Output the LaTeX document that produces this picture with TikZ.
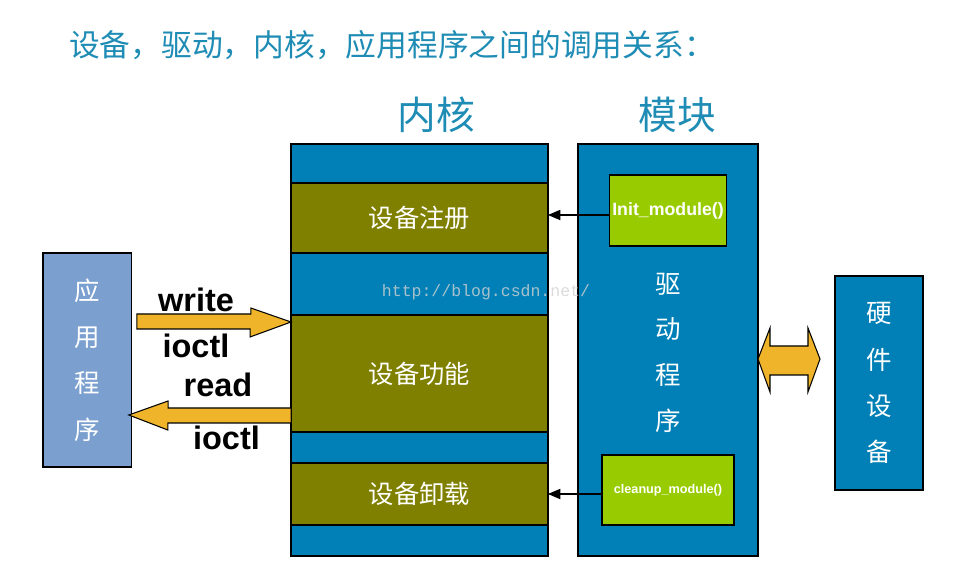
\documentclass[tikz,border=0pt]{standalone}
\usepackage{fontspec}
\setmainfont{Liberation Sans}
\newfontfamily\cjk{Noto Sans CJK SC}
\newfontfamily\wmfont{Liberation Mono}
\usetikzlibrary{arrows}
\definecolor{kblue}{RGB}{0,128,182}
\definecolor{kolive}{RGB}{128,128,0}
\definecolor{mgreen}{RGB}{153,204,0}
\definecolor{appblue}{RGB}{123,160,207}
\definecolor{aorange}{RGB}{239,180,42}
\definecolor{ttl}{RGB}{30,140,180}

\begin{document}
\begin{tikzpicture}[x=0.02cm,y=-0.02cm,>=triangle 45]
		\tikzstyle{box} = [rectangle,draw=black,thick,inner sep=0,outer sep=0,text=white];
		\tikzstyle{band} = [box,minimum width=5.14cm];
		\tikzstyle{tall} = [box,fill=kblue,align=center,font=\cjk\fontsize{14.5pt}{26.3pt}\selectfont];
		\tikzstyle{colcap} = [text=ttl,font=\cjk\fontsize{22pt}{24pt}\selectfont];
		\tikzstyle{call} = [font=\bfseries\fontsize{18.5pt}{20pt}\selectfont];
		\tikzstyle{barrow} = [draw=black,fill=aorange,line width=0.6pt,line join=miter];
		\useasboundingbox (0,0) rectangle (953,563);
		% titles
		\node[text=ttl,font=\cjk\fontsize{17.5pt}{20pt}\selectfont] (head) at (392,45) {设备，驱动，内核，应用程序之间的调用关系：};
		\node[colcap] (kcap) at (436,115) {内核};
		\node[colcap] (mcap) at (677,115) {模块};
		% kernel
		\node[band,fill=kblue,minimum height=0.78cm] (k1) at (419.5,163.5) {};
		\node[band,fill=kolive,minimum height=1.4cm,font=\cjk\fontsize{14.4pt}{16pt}\selectfont] (reg) at (419.5,218) {设备注册};
		\node[band,fill=kblue,minimum height=1.24cm] (k2) at (419.5,284) {};
		\node[band,fill=kolive,minimum height=2.34cm,font=\cjk\fontsize{14.4pt}{16pt}\selectfont] (func) at (419.5,373.5) {设备功能};
		\node[band,fill=kblue,minimum height=0.62cm] (k3) at (419.5,447.5) {};
		\node[band,fill=kolive,minimum height=1.24cm,font=\cjk\fontsize{14.4pt}{16pt}\selectfont] (unld) at (419.5,494) {设备卸载};
		\node[band,fill=kblue,minimum height=0.62cm] (k4) at (419.5,540.5) {};
		% module
		\node[box,fill=kblue,minimum width=3.6cm,minimum height=8.24cm] (mod) at (668,350) {};
		\node[box,fill=mgreen,minimum width=2.34cm,minimum height=1.42cm,font=\bfseries\fontsize{10.1pt}{12pt}\selectfont] (init) at (668,210.5) {Init\_module()};
		\node[box,fill=mgreen,minimum width=2.64cm,minimum height=1.4cm,font=\bfseries\fontsize{7.2pt}{8pt}\selectfont] (clean) at (668,490) {cleanup\_module()};
		\node[text=white,align=center,font=\cjk\fontsize{14.5pt}{26pt}\selectfont] (drv) at (668,352.5) {驱\\动\\程\\序};
		\draw[->,line width=0.6pt] (init.west |- 0,215) -- (reg.east |- 0,215);
		\draw[->,line width=0.6pt] (clean.west |- unld.east) -- (unld.east);
		% application and hardware
		\node[tall,fill=appblue,minimum width=1.78cm,minimum height=4.28cm] (app) at (87.3,360) {应\\用\\程\\序};
		\node[tall,minimum width=1.76cm,minimum height=4.28cm] (hw) at (879,383) {硬\\件\\设\\备};
		% block arrows
		\draw[barrow] ([xshift=0.1cm]app.east |- 0,314) -- ++(114,0) -- ++(0,-6) -- (func.west |- 0,322) -- ++(-41,15) -- ++(0,-8) -- ([xshift=0.1cm]app.east |- 0,329) -- cycle;
		\draw[barrow] (func.west |- 0,408) -- ++(-123,0) -- ++(0,-7) -- ([xshift=-0.06cm]app.east |- 0,415) -- ++(39,15) -- ++(0,-7) -- (func.west |- 0,423) -- cycle;
		\draw[barrow] (mod.east |- 0,359) -- ++(12,-31) -- ++(0,18) -- ++(38,0) -- ++(0,-18) -- ++(12,31) -- ++(-12,33) -- ++(0,-17) -- ++(-38,0) -- ++(0,17) -- cycle;
		\node[call] (w) at (196,300) {write};
		\node[call] (i1) at (196,346) {ioctl};
		\node[call] (r) at (218,385) {read};
		\node[call] (i2) at (226.5,438) {ioctl};
		% watermark
		\node[text=gray!35,opacity=0.8,font=\wmfont\fontsize{9.4pt}{10pt}\selectfont] (wm) at (486,292) {http://blog.csdn.net/};
	\end{tikzpicture}
\end{document}
